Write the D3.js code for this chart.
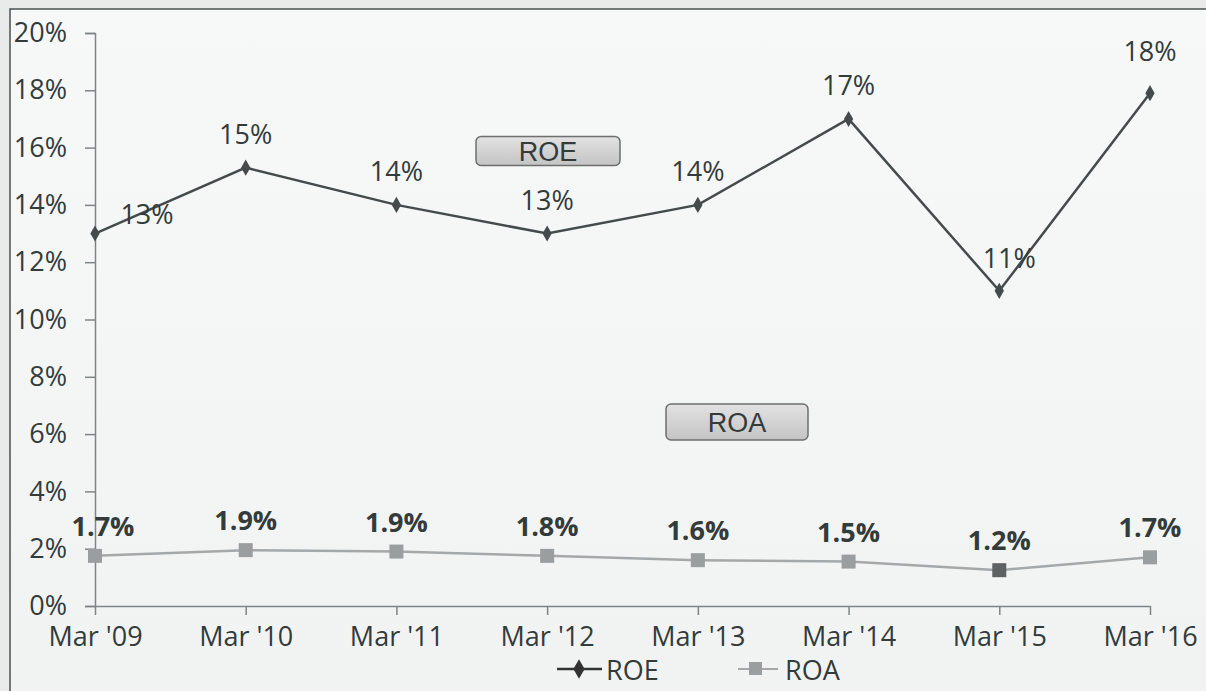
<!DOCTYPE html>
<html>
<head>
<meta charset="utf-8">
<script src="https://cdn.jsdelivr.net/npm/d3@7"></script>
<style>
  body { margin: 0; background: #e9ebeb; }
  svg { display: block; }
  text { font-family: "Open Sans", Lato, sans-serif; fill: #333b3b; }
</style>
</head>
<body>
<div id="chart"></div>
<script>
var categories = ["Mar '09", "Mar '10", "Mar '11", "Mar '12", "Mar '13", "Mar '14", "Mar '15", "Mar '16"];
var roeValues = [13.0, 15.3, 14.0, 13.0, 14.0, 17.0, 11.0, 17.9];
var roeLabels = ["13%", "15%", "14%", "13%", "14%", "17%", "11%", "18%"];
var roaValues = [1.75, 1.95, 1.9, 1.75, 1.6, 1.55, 1.25, 1.7];
var roaLabels = ["1.7%", "1.9%", "1.9%", "1.8%", "1.6%", "1.5%", "1.2%", "1.7%"];
var yTicks = [0, 2, 4, 6, 8, 10, 12, 14, 16, 18, 20];

var width = 1206, height = 691;
var margin = { top: 33, right: 56, bottom: 85, left: 95 };
var fontSize = 27;

var svg = d3.select("#chart").append("svg")
    .attr("width", width)
    .attr("height", height);

var defs = svg.append("defs");
var bg = defs.append("linearGradient").attr("id", "bg")
    .attr("x1", 0).attr("y1", 0).attr("x2", 0).attr("y2", 1);
bg.append("stop").attr("offset", "0%").attr("stop-color", "#f7f9f9");
bg.append("stop").attr("offset", "100%").attr("stop-color", "#f1f3f3");

var boxGrad = defs.append("linearGradient").attr("id", "boxGrad")
    .attr("x1", 0).attr("y1", 0).attr("x2", 0).attr("y2", 1);
boxGrad.append("stop").attr("offset", "0%").attr("stop-color", "#e2e2e2");
boxGrad.append("stop").attr("offset", "100%").attr("stop-color", "#c4c4c4");

// frame
svg.append("rect")
    .attr("x", 10).attr("y", 9)
    .attr("width", width).attr("height", height)
    .attr("fill", "url(#bg)")
    .attr("stroke", "#4a5050")
    .attr("stroke-width", 1.5);

var x = d3.scalePoint()
    .domain(categories)
    .range([margin.left, width - margin.right]);

var y = d3.scaleLinear()
    .domain([0, 20])
    .range([height - margin.bottom, margin.top]);

// y axis
var yAxis = svg.append("g")
    .attr("transform", "translate(" + margin.left + ",0)")
    .call(d3.axisLeft(y).tickValues(yTicks).tickSize(10).tickPadding(18)
        .tickFormat(function(d) { return d + "%"; }));
yAxis.select(".domain").attr("stroke", "#7f8585").attr("stroke-width", 1.5);
yAxis.selectAll(".tick line").attr("stroke", "#7f8585").attr("stroke-width", 1.5);
yAxis.selectAll(".tick text")
    .attr("font-size", fontSize)
    .style("font-family", "'Open Sans', sans-serif")
    .attr("fill", "#333b3b");

// x axis
var xAxis = svg.append("g")
    .attr("transform", "translate(0," + y(0) + ")")
    .call(d3.axisBottom(x).tickSize(9).tickPadding(12).tickSizeOuter(0));
xAxis.select(".domain").attr("stroke", "#7f8585").attr("stroke-width", 1.5);
xAxis.selectAll(".tick line").attr("stroke", "#7f8585").attr("stroke-width", 1.5);
xAxis.selectAll(".tick text")
    .attr("font-size", fontSize)
    .style("font-family", "'Open Sans', sans-serif")
    .attr("fill", "#333b3b");

var line = d3.line()
    .x(function(d, i) { return x(categories[i]); })
    .y(function(d) { return y(d); });

// ROA series
svg.append("path")
    .datum(roaValues)
    .attr("d", line)
    .attr("fill", "none")
    .attr("stroke", "#a4a8a8")
    .attr("stroke-width", 2.5);

svg.selectAll(".roa-pt")
    .data(roaValues)
    .enter().append("rect")
    .attr("class", "roa-pt")
    .attr("x", function(d, i) { return x(categories[i]) - 7; })
    .attr("y", function(d) { return y(d) - 7; })
    .attr("width", 14).attr("height", 14)
    .attr("fill", function(d, i) { return i === 6 ? "#5e6262" : "#9a9e9e"; });

svg.selectAll(".roa-lbl")
    .data(roaLabels)
    .enter().append("text")
    .attr("class", "roa-lbl")
    .attr("x", function(d, i) { return x(categories[i]) + (i === 0 ? 8 : 0); })
    .attr("y", function(d, i) { return y(roaValues[i]) - 20; })
    .attr("text-anchor", "middle")
    .attr("font-size", 27)
    .attr("font-weight", "bold")
    .text(function(d) { return d; });

// ROE series
svg.append("path")
    .datum(roeValues)
    .attr("d", line)
    .attr("fill", "none")
    .attr("stroke", "#454b4b")
    .attr("stroke-width", 2.5);

svg.selectAll(".roe-pt")
    .data(roeValues)
    .enter().append("path")
    .attr("class", "roe-pt")
    .attr("transform", function(d, i) {
        return "translate(" + x(categories[i]) + "," + y(d) + ")";
    })
    .attr("d", d3.symbol().type(d3.symbolDiamond).size(75))
    .attr("fill", "#454b4b");

svg.selectAll(".roe-lbl")
    .data(roeLabels)
    .enter().append("text")
    .attr("class", "roe-lbl")
    .attr("x", function(d, i) {
        var px = x(categories[i]);
        if (i === 0) return px + 52;
        if (i === 6) return px + 10;
        return px;
    })
    .attr("y", function(d, i) {
        var py = y(roeValues[i]);
        if (i === 0) return py - 10;
        if (i === 6) return py - 23;
        if (i === 7) return py - 32;
        return py - 24;
    })
    .attr("text-anchor", "middle")
    .attr("font-size", fontSize)
    .text(function(d) { return d; });

// series name boxes
function nameBox(cx, cy, w, h, label) {
    var g = svg.append("g");
    g.append("rect")
        .attr("x", cx - w / 2).attr("y", cy - h / 2)
        .attr("width", w).attr("height", h)
        .attr("rx", 5)
        .attr("fill", "url(#boxGrad)")
        .attr("stroke", "#6e6e6e")
        .attr("stroke-width", 1.5);
    g.append("text")
        .attr("x", cx).attr("y", cy + 10)
        .attr("text-anchor", "middle")
        .attr("font-size", 27)
        .style("font-family", "'Liberation Sans', Arial, sans-serif")
        .attr("fill", "#222")
        .text(label);
}
nameBox(548, 151, 144, 29, "ROE");
nameBox(737, 422, 142, 36, "ROA");

// legend
var legend = svg.append("g");
legend.append("line")
    .attr("x1", 557).attr("x2", 602).attr("y1", 669).attr("y2", 669)
    .attr("stroke", "#333").attr("stroke-width", 2.5);
legend.append("path")
    .attr("transform", "translate(579,669)")
    .attr("d", d3.symbol().type(d3.symbolDiamond).size(110))
    .attr("fill", "#333");
legend.append("text")
    .attr("x", 606).attr("y", 680)
    .attr("font-size", fontSize)
    .text("ROE");
legend.append("line")
    .attr("x1", 738).attr("x2", 778).attr("y1", 669).attr("y2", 669)
    .attr("stroke", "#a4a8a8").attr("stroke-width", 2);
legend.append("rect")
    .attr("x", 749).attr("y", 662).attr("width", 13).attr("height", 13)
    .attr("fill", "#9a9e9e");
legend.append("text")
    .attr("x", 785).attr("y", 680)
    .attr("font-size", fontSize)
    .text("ROA");
</script>
</body>
</html>
